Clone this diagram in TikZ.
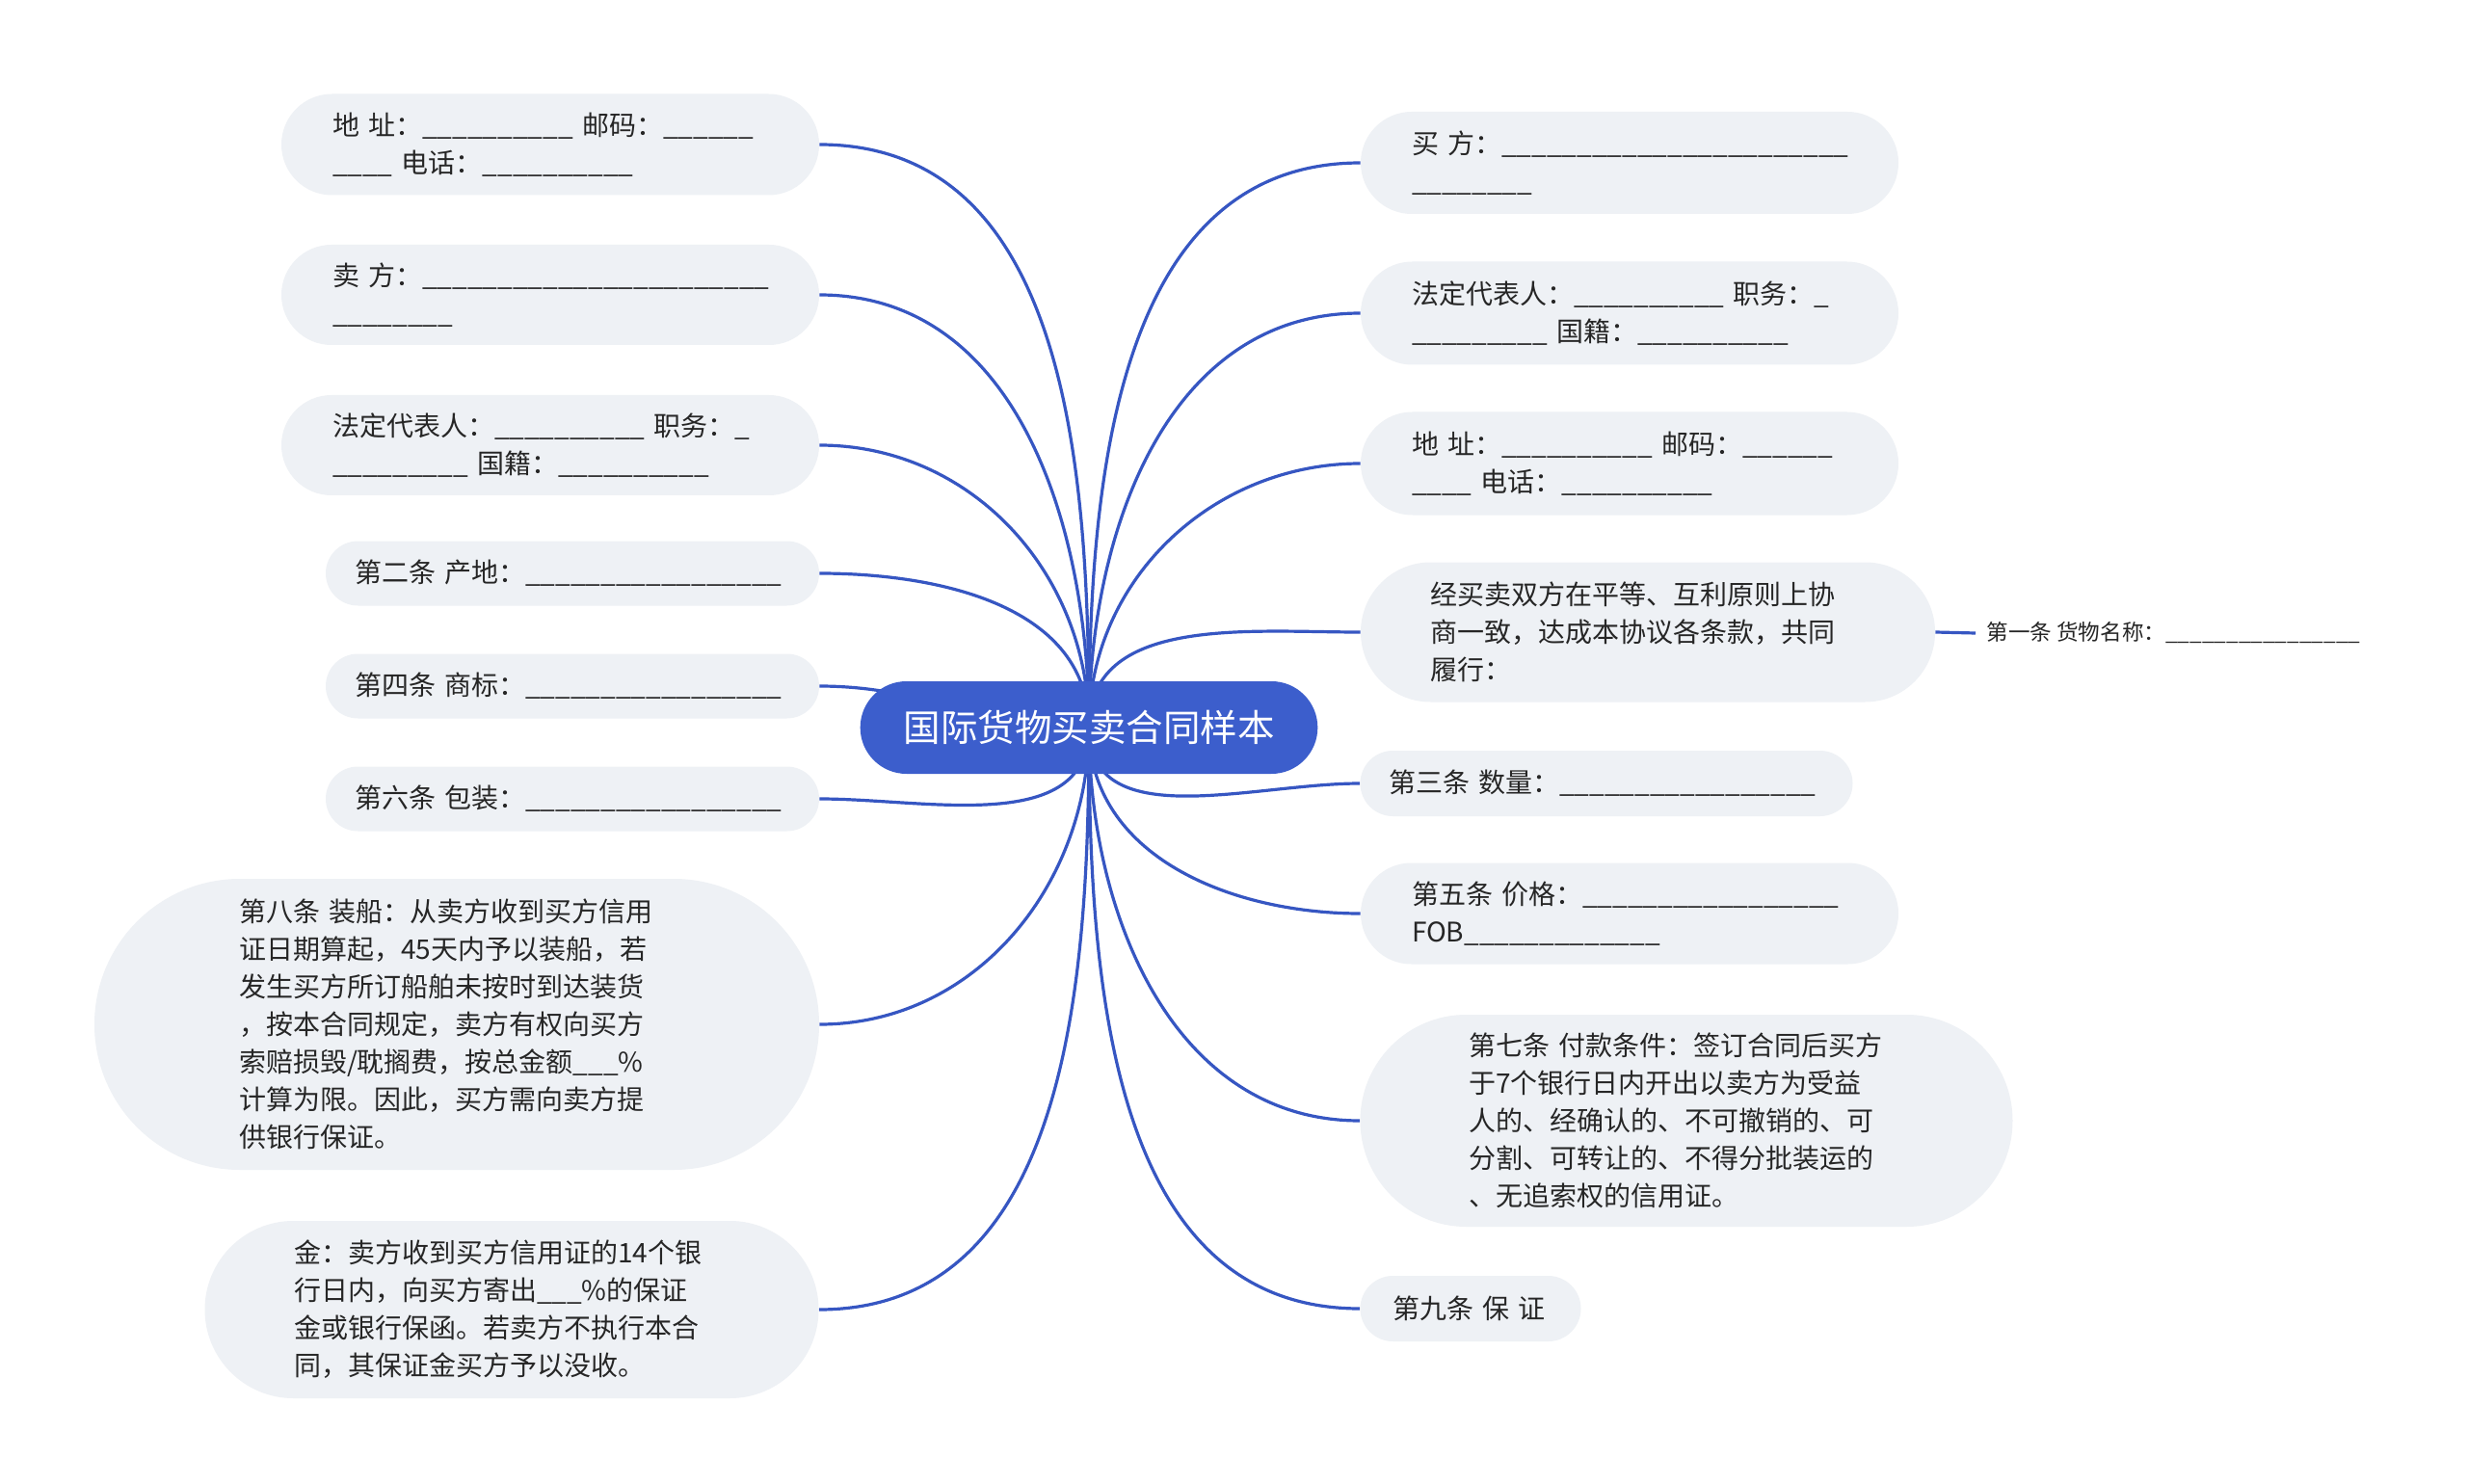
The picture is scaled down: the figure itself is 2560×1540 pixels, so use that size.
\documentclass[tikz,border=0pt]{standalone}
\usepackage{fontspec}
\setmainfont{Noto Sans CJK SC}
\usetikzlibrary{shapes.misc,backgrounds}
\definecolor{rootblue}{HTML}{3C5ECC}
\definecolor{linkblue}{HTML}{3656C2}
\definecolor{topicgray}{HTML}{EEF1F5}
\definecolor{inkgray}{HTML}{262626}
\newcommand{\blank}[1]{\foreach \k in {1,...,#1}{\_}}

\tikzset{
topic/.style={rounded rectangle, fill=topicgray, text=inkgray, inner xsep=0pt,
  text width=226pt, align=left, font=\fontsize{14pt}{19.5pt}\selectfont},
root/.style={rounded rectangle, fill=rootblue, text=white, minimum width=244pt,
  minimum height=48pt, font=\fontsize{19.25pt}{24pt}\selectfont},
link/.style={draw=linkblue, line width=1.6pt},
}

\begin{document}
\begin{tikzpicture}[x=0.5pt,y=0.5pt]
\useasboundingbox (0,0) rectangle (2560,-1540);

\node[root] (root) at (1130,-755) {国际货物买卖合同样本};

\node[topic, minimum width=279pt, minimum height=52.5pt] (sAddr) at (571,-150)
{地~址：\blank{10}~邮码：\blank{6}\\\blank{4}~电话：\blank{10}};
\node[topic, minimum width=279pt, minimum height=52pt] (seller) at (571,-306)
{卖~方：\blank{23}\\\blank{8}};
\node[topic, minimum width=279pt, minimum height=52pt] (sRep) at (571,-462)
{法定代表人：\blank{10}~职务：\_\\\blank{9}~国籍：\blank{10}};
\node[topic, minimum width=256pt, minimum height=33.5pt] (origin) at (594,-595)
{第二条~产地：\blank{17}};
\node[topic, minimum width=256pt, minimum height=33.5pt] (brand) at (594,-712)
{第四条~商标：\blank{17}};
\node[topic, minimum width=256pt, minimum height=33.5pt] (packing) at (594,-829)
{第六条~包装：\blank{17}};
\node[topic, minimum width=376pt, minimum height=151pt] (shipment) at (474,-1063)
{第八条~装船：从卖方收到买方信用\\证日期算起，45天内予以装船，若\\发生买方所订船舶未按时到达装货\\，按本合同规定，卖方有权向买方\\索赔损毁/耽搁费，按总金额\blank{3}\%\\计算为限。因此，买方需向卖方提\\供银行保证。};
\node[topic, minimum width=318.5pt, minimum height=92pt] (deposit) at (531,-1359)
{金：卖方收到买方信用证的14个银\\行日内，向买方寄出\blank{3}\%的保证\\金或银行保函。若卖方不执行本合\\同，其保证金买方予以没收。};

\node[topic, minimum width=279pt, minimum height=53pt] (buyer) at (1691,-169)
{买~方：\blank{23}\\\blank{8}};
\node[topic, minimum width=279pt, minimum height=53.5pt] (bRep) at (1691,-325)
{法定代表人：\blank{10}~职务：\_\\\blank{9}~国籍：\blank{10}};
\node[topic, minimum width=279pt, minimum height=53.5pt] (bAddr) at (1691,-481)
{地~址：\blank{10}~邮码：\blank{6}\\\blank{4}~电话：\blank{10}};
\node[topic, minimum width=298pt, minimum height=72.5pt] (preamble) at (1710,-656)
{经买卖双方在平等、互利原则上协\\商一致，达成本协议各条款，共同\\履行：};
\node[topic, minimum width=255.5pt, minimum height=34pt] (quantity) at (1667,-813)
{第三条~数量：\blank{17}};
\node[topic, minimum width=279pt, minimum height=52.5pt] (price) at (1691,-948)
{第五条~价格：\blank{17}\\FOB\blank{13}};
\node[topic, minimum width=338.5pt, minimum height=110pt] (payment) at (1750,-1163)
{第七条~付款条件：签订合同后买方\\于7个银行日内开出以卖方为受益\\人的、经确认的、不可撤销的、可\\分割、可转让的、不得分批装运的\\、无追索权的信用证。};
\node[topic, text width=81pt, minimum width=114.5pt, minimum height=34pt] (guarantee) at (1526,-1358)
{第九条~保~证};

\node[anchor=west, inner xsep=5.5pt, text=inkgray, font=\fontsize{11.3pt}{14pt}\selectfont] (goods) at (2050,-657)
{第一条~货物名称：\blank{16}};

\begin{scope}[on background layer]
\fill[white] (0,0) rectangle (2560,-1540);
\draw[link] (root.center) to[out=90,in=0] (sAddr.east);
\draw[link] (root.center) to[out=90,in=0] (seller.east);
\draw[link] (root.center) to[out=90,in=0] (sRep.east);
\draw[link] (root.center) to[out=90,in=0] (origin.east);
\draw[link] (root.center) to[out=180,in=0] (brand.east);
\draw[link] (root.center) to[out=-90,in=0] (packing.east);
\draw[link] (root.center) to[out=-90,in=0] (shipment.east);
\draw[link] (root.center) to[out=-90,in=0] (deposit.east);
\draw[link] (root.center) to[out=90,in=180] (buyer.west);
\draw[link] (root.center) to[out=90,in=180] (bRep.west);
\draw[link] (root.center) to[out=90,in=180] (bAddr.west);
\draw[link] (root.center) to[out=90,in=180] (preamble.west);
\draw[link] (root.center) to[out=-90,in=180] (quantity.west);
\draw[link] (root.center) to[out=-90,in=180] (price.west);
\draw[link] (root.center) to[out=-90,in=180] (payment.west);
\draw[link] (root.center) to[out=-90,in=180] (guarantee.west);
\draw[link] (preamble.east) -- (goods.west);
\end{scope}
\end{tikzpicture}
\end{document}
